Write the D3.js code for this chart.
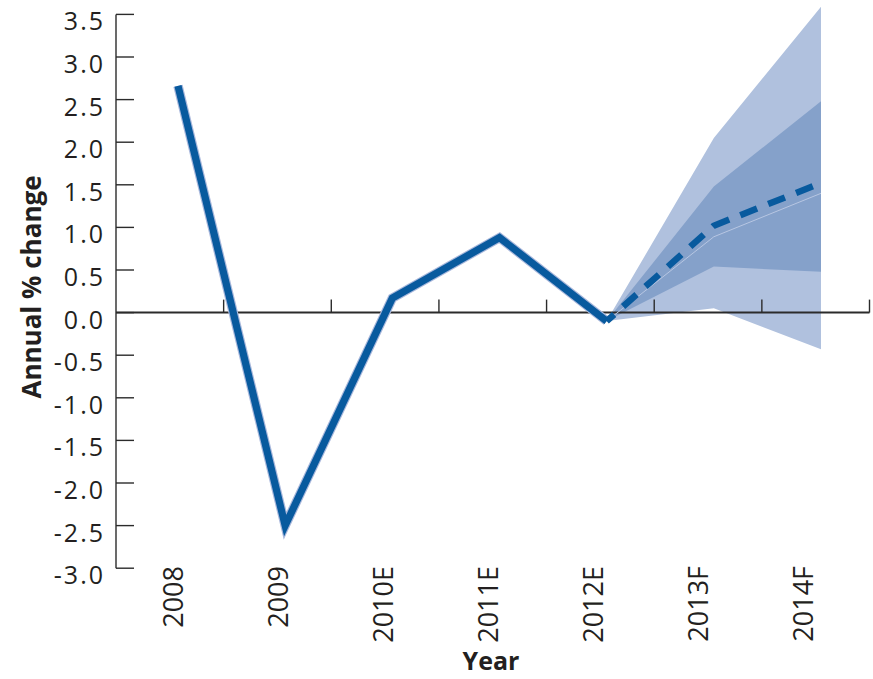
<!DOCTYPE html>
<html>
<head>
<meta charset="utf-8">
<script src="https://cdn.jsdelivr.net/npm/d3@7"></script>
<style>
  html, body { margin: 0; padding: 0; background: #fff; }
  svg { display: block; }
  text { font-family: "Open Sans", "Noto Sans", sans-serif; fill: #231f20; }
</style>
</head>
<body>
<svg id="chart" width="873" height="679"></svg>
<script>
// Years on the horizontal axis
const categories = ["2008", "2009", "2010E", "2011E", "2012E", "2013F", "2014F"];

// Recorded / estimated annual % change
const actualYears = ["2008", "2009", "2010E", "2011E", "2012E"];
const actualValues = [2.66, -2.5, 0.17, 0.88, -0.1];

// Forecast path and uncertainty ranges
const forecastYears = ["2012E", "2013F", "2014F"];
const forecastMedian = [-0.1, 1.02, 1.52];
const forecastCentral = [-0.1, 0.89, 1.40];
const outerLow = [-0.1, 0.05, -0.43];
const outerHigh = [-0.1, 2.05, 3.59];
const innerLow = [-0.1, 0.54, 0.48];
const innerHigh = [-0.1, 1.48, 2.48];

// Value axis ticks
const yTicks = [-3.0, -2.5, -2.0, -1.5, -1.0, -0.5, 0.0, 0.5, 1.0, 1.5, 2.0, 2.5, 3.0, 3.5];

const svg = d3.select("#chart");

const y = d3.scaleLinear().domain([-3, 3.5]).range([568.2, 14.4]);
const xBand = d3.scaleBand().domain(categories).range([116, 869.5]);
const xPoint = d3.scalePoint().domain(categories).range([178, 821]);
const xLabel = d3.scalePoint().domain(categories).range([173, 803]);

const colors = {
  line: "#085a9e",
  halo: "#a9b8dc",
  outer: "#b0c1de",
  inner: "#85a1ca",
  central: "#b7c6e2",
  axis: "#2b2b2b"
};

const fmt = d => d3.format(".1f")(d).replace("\u2212", "-");

// Uncertainty fans
const area = (lo, hi) => d3.area()
  .x((d, i) => xPoint(forecastYears[i]))
  .y0((d, i) => y(lo[i]))
  .y1((d, i) => y(hi[i]));

svg.append("path")
  .datum(forecastYears)
  .attr("fill", colors.outer)
  .attr("d", area(outerLow, outerHigh));

svg.append("path")
  .datum(forecastYears)
  .attr("fill", colors.inner)
  .attr("d", area(innerLow, innerHigh));

// Value axis: line with inward ticks
const yAxis = svg.append("g").attr("class", "y-axis");
yAxis.append("line")
  .attr("x1", 116).attr("x2", 116)
  .attr("y1", y(3.5)).attr("y2", y(-3.0))
  .attr("stroke", colors.axis).attr("stroke-width", 1.4);
yAxis.selectAll("line.tick")
  .data(yTicks)
  .join("line")
  .attr("class", "tick")
  .attr("x1", 116).attr("x2", 134)
  .attr("y1", d => y(d)).attr("y2", d => y(d))
  .attr("stroke", colors.axis).attr("stroke-width", 1.4);
yAxis.selectAll("text")
  .data(yTicks)
  .join("text")
  .attr("x", 105)
  .attr("y", d => y(d) + 6)
  .attr("dominant-baseline", "central")
  .attr("text-anchor", "end")
  .attr("font-size", 25)
  .attr("letter-spacing", 2)
  .text(fmt);

// Category axis along zero line, ticks at band edges
const xAxis = svg.append("g").attr("class", "x-axis");
xAxis.append("line")
  .attr("x1", 116).attr("x2", 869.5)
  .attr("y1", y(0)).attr("y2", y(0))
  .attr("stroke", colors.axis).attr("stroke-width", 2);
xAxis.selectAll("line.tick")
  .data(categories)
  .join("line")
  .attr("class", "tick")
  .attr("x1", d => xBand(d) + xBand.bandwidth())
  .attr("x2", d => xBand(d) + xBand.bandwidth())
  .attr("y1", y(0)).attr("y2", y(0) - 13)
  .attr("stroke", colors.axis).attr("stroke-width", 1.4);

svg.append("g").selectAll("text")
  .data(categories)
  .join("text")
  .attr("transform", d => `translate(${xLabel(d) + 10},566) rotate(-90)`)
  .attr("text-anchor", "end")
  .attr("font-size", 27)
  .text(d => d);

// Central forecast guide
const fLine = vals => d3.line()
  .x((d, i) => xPoint(forecastYears[i]))
  .y((d, i) => y(vals[i]));

svg.append("path")
  .datum(forecastYears)
  .attr("fill", "none")
  .attr("stroke", colors.central)
  .attr("stroke-width", 1)
  .attr("d", fLine(forecastCentral));

// Actual series with soft halo
const aLine = d3.line()
  .x((d, i) => xPoint(actualYears[i]))
  .y((d, i) => y(actualValues[i]));

svg.append("path")
  .datum(actualYears)
  .attr("fill", "none")
  .attr("stroke", colors.halo)
  .attr("stroke-width", 9.5)
  .attr("stroke-linejoin", "miter")
  .attr("d", aLine);

svg.append("path")
  .datum(actualYears)
  .attr("fill", "none")
  .attr("stroke", colors.line)
  .attr("stroke-width", 7.2)
  .attr("stroke-linejoin", "miter")
  .attr("d", aLine);

// Forecast median, dashed
svg.append("path")
  .datum(forecastYears)
  .attr("fill", "none")
  .attr("stroke", colors.line)
  .attr("stroke-width", 6.5)
  .attr("stroke-dasharray", "18 12")
  .attr("stroke-dashoffset", 8)
  .attr("d", fLine(forecastMedian));

// Axis titles
svg.append("text")
  .attr("transform", "translate(41,287) rotate(-90)")
  .attr("text-anchor", "middle")
  .attr("font-size", 26)
  .attr("font-weight", "bold")
  .text("Annual % change");

svg.append("text")
  .attr("x", 491)
  .attr("y", 670)
  .attr("text-anchor", "middle")
  .attr("font-size", 25)
  .attr("font-weight", "bold")
  .text("Year");
</script>
</body>
</html>
